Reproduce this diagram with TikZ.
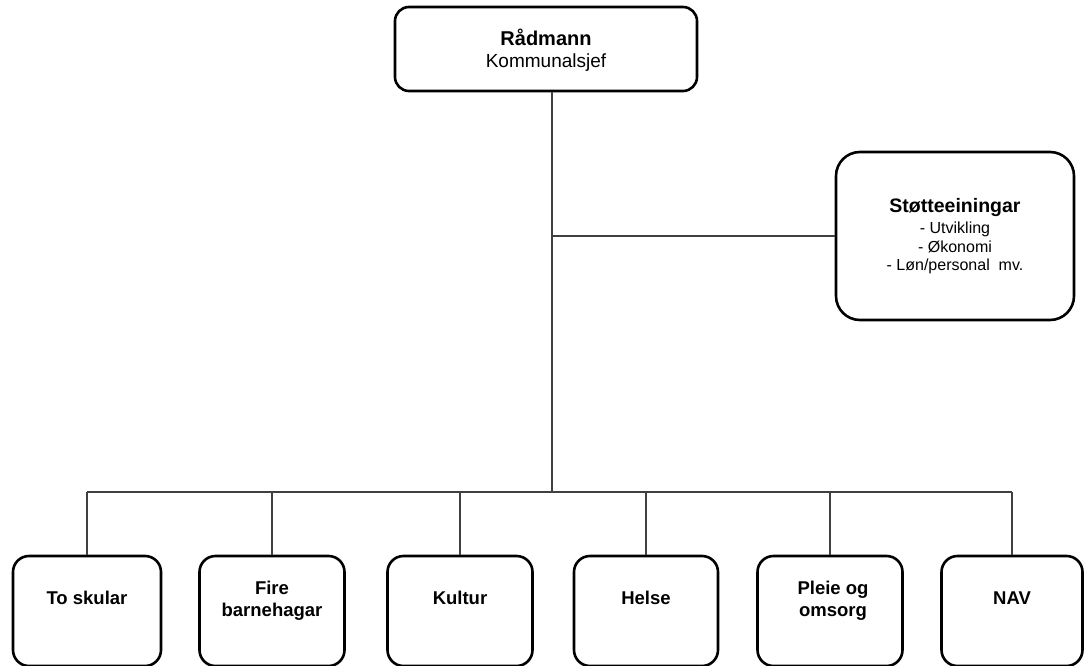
\documentclass[tikz,border=0pt]{standalone}
\usepackage{fontspec}
\setmainfont{Liberation Sans}
\begin{document}
\begin{tikzpicture}[x=1pt,y=-1pt,
  box/.style={draw=black,line width=2.6pt,rounded corners=16pt,fill=white,inner sep=0pt},
  conn/.style={draw=black!75,line width=1.1pt},
  lbl/.style={font=\fontsize{18.5}{22}\selectfont\bfseries,align=center,inner sep=0pt},
  item/.style={font=\fontsize{16}{18.5}\selectfont,align=center,inner sep=0pt}]
\useasboundingbox (0,0) rectangle (1092,666);
% boxes
\node[box,minimum width=302pt,minimum height=84pt,rounded corners=14pt] (top) at (546,49) {};
\node[box,minimum width=238pt,minimum height=168pt,rounded corners=24pt] (st) at (955,236) {};
\node[box,minimum width=148pt,minimum height=110pt] (b1) at (87,611) {};
\node[box,minimum width=145pt,minimum height=110pt] (b2) at (272,611) {};
\node[box,minimum width=145pt,minimum height=110pt] (b3) at (460,611) {};
\node[box,minimum width=144pt,minimum height=110pt] (b4) at (646,611) {};
\node[box,minimum width=145pt,minimum height=110pt] (b5) at (830,611) {};
\node[box,minimum width=141pt,minimum height=110pt] (b6) at (1012,611) {};
% texts
\node[font=\fontsize{20}{22}\selectfont\bfseries,inner sep=0pt] (ttop) at (546,37) {Rådmann};
\node[font=\fontsize{19}{22}\selectfont,inner sep=0pt] (ttop2) at (546,63) {Kommunalsjef};
\node[font=\fontsize{19.5}{22}\selectfont\bfseries,inner sep=0pt] (tst) at (955,208) {Støtteeiningar};
\node[item] (tst2) at (955,248) {- Utvikling\\- Økonomi\\- Løn/personal\ \ mv.};
\node[lbl] (t1) at (87,598) {To skular};
\node[lbl] (t2) at (272,601) {Fire\\barnehagar};
\node[lbl] (t3) at (460,598) {Kultur};
\node[lbl] (t4) at (646,598) {Helse};
\node[lbl] (t5) at (833,601) {Pleie og\\omsorg};
\node[lbl] (t6) at (1012,598) {NAV};
% connectors
\coordinate (bus) at (552,492);
\draw[conn] (bus |- top.south) -- (bus);
\draw[conn] (bus |- st.west) -- (st.west);
\draw[conn] (b1.north |- bus) -- (b6.north |- bus);
\foreach \b in {b1,b2,b3,b4,b5,b6} \draw[conn] (\b.north |- bus) -- (\b.north);
\end{tikzpicture}
\end{document}
